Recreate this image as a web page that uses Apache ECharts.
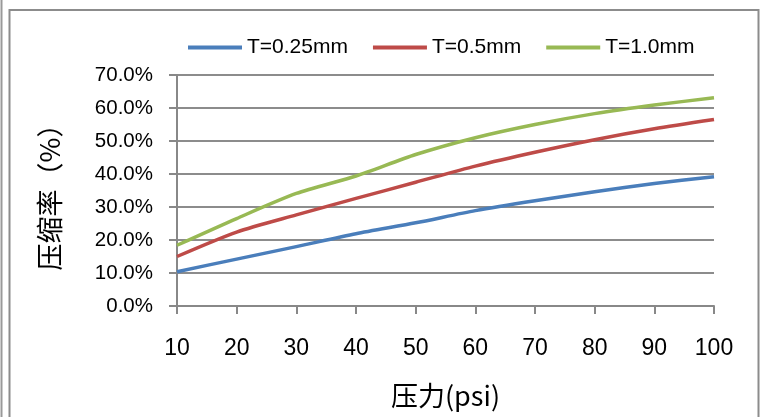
<!DOCTYPE html>
<html>
<head>
<meta charset="utf-8">
<script src="https://cdn.jsdelivr.net/npm/echarts@6/dist/echarts.min.js"></script>
<style>
html,body{margin:0;padding:0;background:#fff;}
#chart{width:766px;height:417px;}
</style>
</head>
<body>
<div id="chart"></div>
<script>
const categories = ['10','20','30','40','50','60','70','80','90','100'];
const seriesNames = ['T=0.25mm','T=0.5mm','T=1.0mm'];
const t025 = [10.4, 14.2, 18.0, 21.9, 25.2, 28.9, 31.9, 34.6, 37.1, 39.2];
const t05 = [15.0, 22.4, 27.6, 32.6, 37.5, 42.4, 46.6, 50.4, 53.7, 56.5];
const t10 = [18.4, 26.5, 34.1, 39.4, 45.9, 51.0, 55.0, 58.3, 60.9, 63.1];
const yTicks = [0, 10, 20, 30, 40, 50, 60, 70];
const colors = ['#4A7EBB', '#BE4B48', '#98B954'];

const chart = echarts.init(document.getElementById('chart'), null, {renderer: 'canvas'});
const latin = 'Liberation Sans, Arial, sans-serif';
const cjk = 'Noto Sans CJK SC, sans-serif';
const dataArr = [t025, t05, t10];
chart.setOption({
  animation: false,
  color: colors,
  graphic: [
    {type: 'line', shape: {x1: 1.5, y1: 0, x2: 1.5, y2: 417}, style: {stroke: '#999', lineWidth: 2}},
    {type: 'rect', shape: {x: 9.5, y: 10, width: 749, height: 420}, style: {fill: 'none', stroke: '#8c8c8c', lineWidth: 2}}
  ],
  legend: {
    left: 183, top: 32,
    icon: 'rect', itemWidth: 54, itemHeight: 4, itemGap: 25,
    textStyle: {fontFamily: latin, fontSize: 21, color: '#000'},
    data: seriesNames
  },
  grid: {left: 177, right: 52, top: 75, bottom: 111, containLabel: false},
  xAxis: {
    type: 'category', data: categories, boundaryGap: false,
    axisLine: {lineStyle: {color: '#888', width: 2}},
    axisTick: {show: true, inside: false, length: 8, lineStyle: {color: '#888', width: 2}},
    axisLabel: {margin: 31, fontFamily: latin, fontSize: 23, color: '#000'},
    name: '压力(psi)', nameLocation: 'middle', nameGap: 76,
    nameTextStyle: {fontFamily: cjk, fontSize: 27, color: '#000'}
  },
  yAxis: {
    type: 'value', min: yTicks[0], max: yTicks[yTicks.length - 1], interval: 10,
    axisLine: {show: true, lineStyle: {color: '#888', width: 2}},
    axisTick: {show: true, length: 8, lineStyle: {color: '#888', width: 2}},
    splitLine: {show: true, lineStyle: {color: '#8c8c8c', width: 2}},
    axisLabel: {margin: 24, fontFamily: latin, fontSize: 20.5, color: '#000', formatter: v => v.toFixed(1) + '%'},
    name: '压缩率（%）', nameLocation: 'middle', nameGap: 114, nameRotate: 90,
    nameTextStyle: {fontFamily: cjk, fontSize: 27, color: '#000'}
  },
  series: seriesNames.map((n, i) => ({
    name: n, type: 'line', data: dataArr[i], symbol: 'none', smooth: 0.25,
    lineStyle: {width: 3.5, color: colors[i]}
  }))
});
</script>
</body>
</html>
